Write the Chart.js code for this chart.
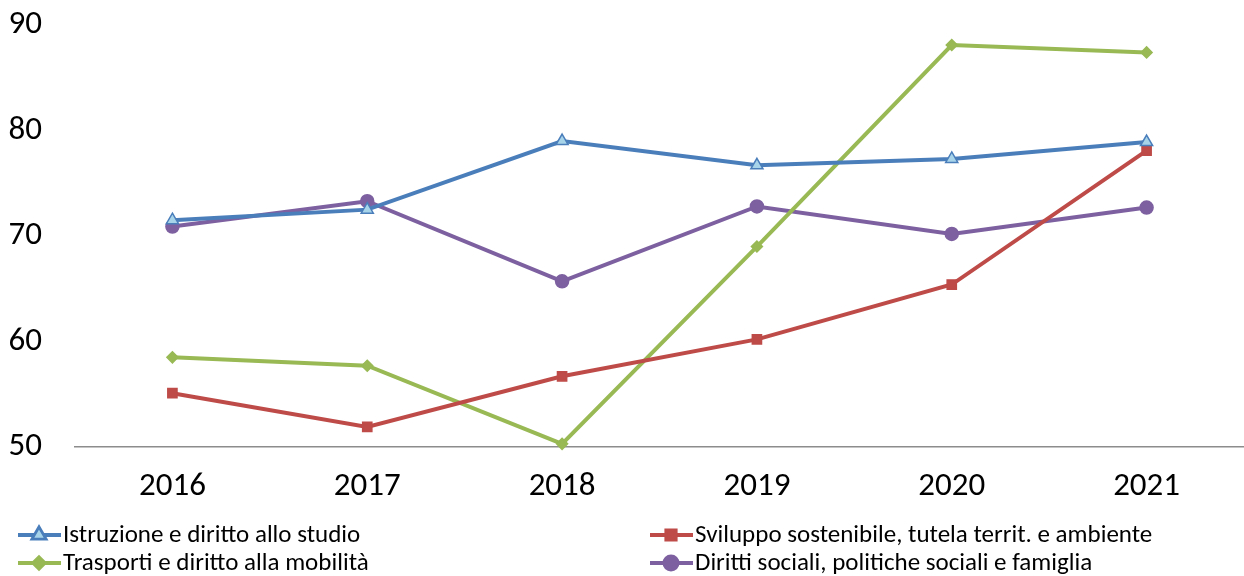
<!DOCTYPE html>
<html>
<head>
<meta charset="utf-8">
<script src="https://cdn.jsdelivr.net/npm/chart.js@4"></script>
<style>
  html, body { margin: 0; padding: 0; background: #fff; }
  #wrap { width: 1244px; height: 576px; }
</style>
</head>
<body>
<div id="wrap"><canvas id="lineChart" width="1244" height="576"></canvas></div>
<script>
// Dati del grafico
const anni = ['2016', '2017', '2018', '2019', '2020', '2021'];
const istruzione = [71.5, 72.5, 79.0, 76.7, 77.3, 78.9];
const sviluppo = [55.1, 51.9, 56.7, 60.2, 65.4, 78.1];
const trasporti = [58.5, 57.7, 50.3, 69.0, 88.1, 87.4];
const dirittiSociali = [70.9, 73.3, 65.7, 72.8, 70.2, 72.7];
const yTicks = [50, 60, 70, 80, 90];

const FONT = 'Carlito, Calibri, "Liberation Sans", sans-serif';

// legenda disegnata a mano su due colonne
const legendaDueColonne = {
  id: 'legendaDueColonne',
  afterDraw(chart) {
    const ctx = chart.ctx;
    const pos = [[18, 535], [650, 535], [18, 563], [650, 563]];
    chart.data.datasets.forEach((ds, i) => {
      const [x, y] = pos[i];
      ctx.save();
      ctx.strokeStyle = ds.borderColor;
      ctx.lineWidth = 4;
      ctx.beginPath();
      ctx.moveTo(x, y);
      ctx.lineTo(x + 43, y);
      ctx.stroke();
      Chart.helpers.drawPoint(ctx, {
        pointStyle: ds.pointStyle,
        radius: ds.pointRadius,
        borderWidth: 1.5,
      }, x + 21, y);
      ctx.fillStyle = ds.pointBackgroundColor;
      ctx.strokeStyle = ds.pointBorderColor;
      ctx.lineWidth = 1.5;
      ctx.fill();
      ctx.stroke();
      ctx.fillStyle = '#000';
      ctx.font = '25px ' + FONT;
      ctx.textBaseline = 'middle';
      ctx.fillText(ds.label, x + 45, y + 1);
      ctx.restore();
    });
  }
};

const lineCtx = document.getElementById('lineChart').getContext('2d');
const lineChart = new Chart(lineCtx, {
  type: 'line',
  data: {
    labels: anni,
    datasets: [
      {
        label: 'Istruzione e diritto allo studio',
        data: istruzione,
        borderColor: '#4A7EBB',
        pointBackgroundColor: '#A8D4EA',
        pointBorderColor: '#4A7EBB',
        pointStyle: 'triangle',
        pointRadius: 7,
      },
      {
        label: 'Sviluppo sostenibile, tutela territ. e ambiente',
        data: sviluppo,
        borderColor: '#BE4B48',
        pointBackgroundColor: '#BE4B48',
        pointBorderColor: '#BE4B48',
        pointStyle: 'rect',
        pointRadius: 6.5,
      },
      {
        label: 'Trasporti e diritto alla mobilità',
        data: trasporti,
        borderColor: '#98B954',
        pointBackgroundColor: '#98B954',
        pointBorderColor: '#98B954',
        pointStyle: 'rectRot',
        pointRadius: 5.5,
      },
      {
        label: 'Diritti sociali, politiche sociali e famiglia',
        data: dirittiSociali,
        borderColor: '#7D60A0',
        pointBackgroundColor: '#7D60A0',
        pointBorderColor: '#7D60A0',
        pointStyle: 'circle',
        pointRadius: 6.5,
      },
    ].map(d => Object.assign(d, { borderWidth: 4, pointBorderWidth: 1.5, tension: 0, clip: false })),
  },
  options: {
    responsive: false,
    animation: false,
    layout: { padding: 0, autoPadding: false },
    plugins: {
      legend: { display: false },
      tooltip: { enabled: false },
    },
    scales: {
      x: {
        offset: true,
        grid: { display: false, drawTicks: false },
        border: { display: true, color: '#8c8c8c', width: 1.5 },
        ticks: { color: '#000', font: { size: 33, family: FONT }, padding: 20 },
        afterFit(scale) {
          scale.height = 129;
          scale.paddingLeft = 0;
          scale.paddingRight = 0;
        },
      },
      y: {
        min: 50,
        max: 90,
        afterBuildTicks(scale) { scale.ticks = yTicks.map(v => ({ value: v })); },
        grid: { display: false, drawTicks: false },
        border: { display: false },
        ticks: { color: '#000', font: { size: 33, family: FONT }, padding: 33 },
        afterFit(scale) {
          scale.width = 75;
          scale.paddingTop = 25;
          scale.paddingBottom = 0;
        },
      },
    },
  },
  plugins: [legendaDueColonne],
});
</script>
</body>
</html>
